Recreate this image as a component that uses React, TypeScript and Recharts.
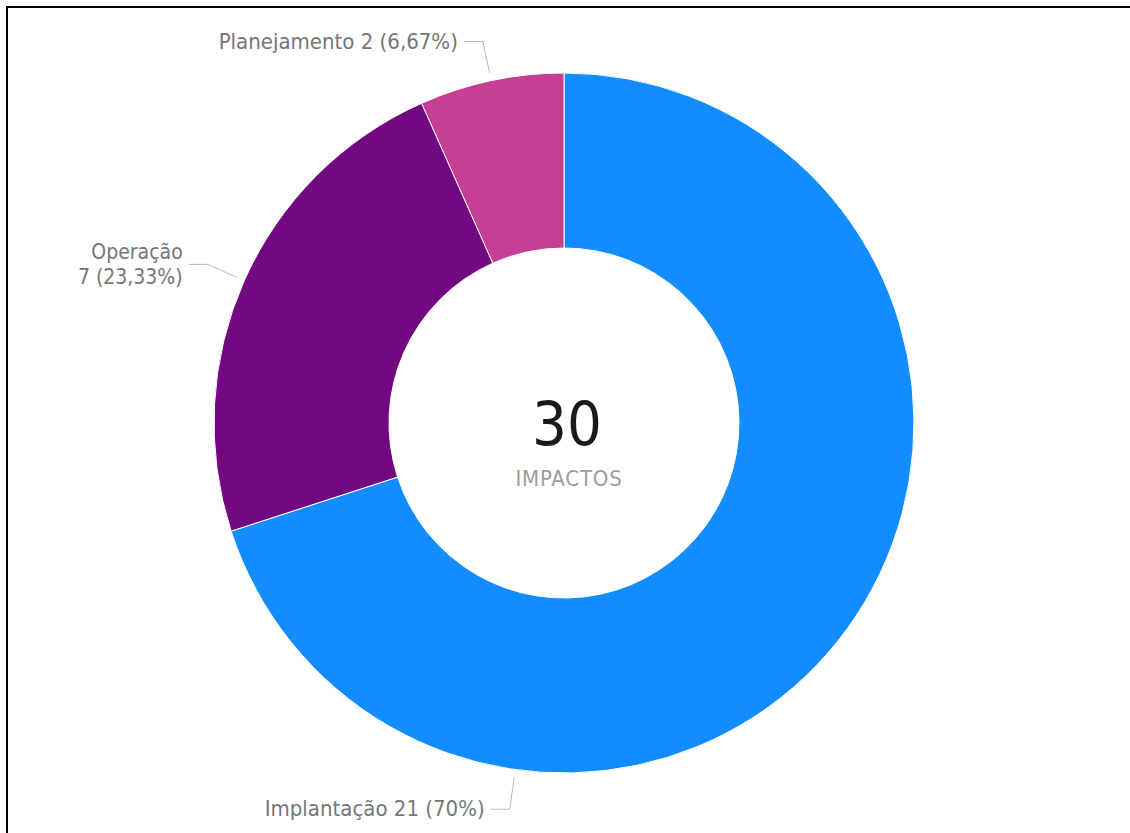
import React from 'react';
import { PieChart, Pie, Cell } from 'recharts';

const categories = ['Implantação', 'Operação', 'Planejamento'];
const values = [21, 7, 2];
const colors = ['#118DFF', '#730981', '#C63F95'];
const centerValue = '30';
const centerCaption = 'IMPACTOS';

const data = categories.map((name, i) => ({ name, value: values[i] }));
const total = values.reduce((a, b) => a + b, 0);

const FONT = '"DejaVu Sans Condensed", "DejaVu Sans", sans-serif';
const RAD = Math.PI / 180;
// label anchor angle override (Power BI moves the big slice's label to the bottom)
const labelAngle: Record<string, number> = { 'Implantação': -98 };

const fmtPct = (v: number) => {
  const p = (v / total) * 100;
  const s = Number.isInteger(p) ? String(p) : p.toFixed(2);
  return s.replace('.', ',') + '%';
};

const renderLabel = (props: any) => {
  const { cx, cy, outerRadius, midAngle, payload, value, index } = props;
  const name = payload?.name ?? props.name;
  const ang = labelAngle[name] !== undefined ? labelAngle[name] : midAngle;
  const cos = Math.cos(ang * RAD);
  const sin = Math.sin(ang * RAD);
  const x1 = cx + (outerRadius + 8) * cos;
  const y1 = cy - (outerRadius + 8) * sin;
  const x2 = cx + (outerRadius + 40) * cos;
  const y2 = cy - (outerRadius + 40) * sin;
  const left = cos < 0.3;
  const x3 = x2 + (left ? -19 : 19);
  const tx = x3 + (left ? -6 : 6);
  const anchor = left ? 'end' : 'start';
  const pct = fmtPct(value);
  const twoLine = name === 'Operação';
  return (
    <g>
      {index === 0 && (
        <g>
          <text x={cx + 3} y={cy + 22} textAnchor="middle" fontFamily={FONT} fontSize={61} fill="#1A1A1A">
            {centerValue}
          </text>
          <text x={cx + 5} y={cy + 63} textAnchor="middle" fontFamily={FONT} fontSize={22} letterSpacing={0.8} fill="#9C9C9C">
            {centerCaption}
          </text>
        </g>
      )}
      <polyline points={`${x1},${y1} ${x2},${y2} ${x3},${y2}`} fill="none" stroke="#B8B8B8" strokeWidth={1} />
      {twoLine ? (
        <text x={tx} y={y2} textAnchor={anchor} fontFamily={FONT} fontSize={21} fill="#767676">
          <tspan x={tx} dy={-5}>{name}</tspan>
          <tspan x={tx} dy={25}>{`${value} (${pct})`}</tspan>
        </text>
      ) : (
        <text x={tx} y={y2} dy={7} textAnchor={anchor} fontFamily={FONT} fontSize={22} fill="#767676">
          {`${name} ${value} (${pct})`}
        </text>
      )}
    </g>
  );
};

export default function App() {
  return (
    <div style={{ position: 'absolute', left: 0, top: 0, width: 1130, height: 833, overflow: 'hidden', background: '#fff' }}>
      <div style={{ position: 'absolute', left: 6, top: 6, width: 1200, height: 900, borderTop: '2px solid #000', borderLeft: '2px solid #000' }} />
      <div style={{ position: 'absolute', left: 0, top: 0 }}>
        <PieChart width={1130} height={833} margin={{ top: 0, right: 0, bottom: 0, left: 0 }}>
          <Pie
            data={data}
            dataKey="value"
            nameKey="name"
            cx={564}
            cy={423}
            innerRadius={175}
            outerRadius={350}
            startAngle={90}
            endAngle={-270}
            stroke="#ffffff"
            strokeWidth={1}
            label={renderLabel}
            labelLine={false}
            isAnimationActive={false}
          >
            {data.map((d, i) => (
              <Cell key={d.name} fill={colors[i]} />
            ))}
          </Pie>
        </PieChart>
      </div>
    </div>
  );
}
